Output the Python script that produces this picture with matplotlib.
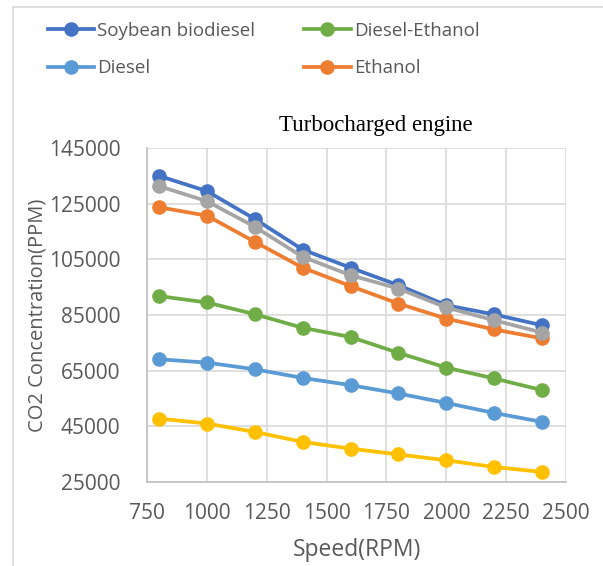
import matplotlib
matplotlib.use("Agg")
import matplotlib.pyplot as plt
from matplotlib.patches import Rectangle

speed = [800, 1000, 1200, 1400, 1600, 1800, 2000, 2200, 2400]
soybean_biodiesel = [135000, 129500, 119500, 108500, 102000, 95700, 88500, 85200, 81300]
diesel_ethanol = [91800, 89500, 85300, 80400, 77100, 71400, 66100, 62200, 58000]
diesel = [69100, 67900, 65500, 62400, 59800, 56800, 53400, 49800, 46600]
ethanol = [123700, 120700, 111300, 102000, 95400, 89100, 83700, 79800, 76600]
series_gray = [131300, 125900, 116700, 105900, 99300, 94500, 87700, 83100, 78700]
series_yellow = [47800, 46000, 43000, 39400, 37000, 34900, 32800, 30400, 28600]

x_ticks = [750, 1000, 1250, 1500, 1750, 2000, 2250, 2500]
y_ticks = [25000, 45000, 65000, 85000, 105000, 125000, 145000]

FONT = "Open Sans"
TXT = "#595959"

fig = plt.figure(figsize=(6.03, 5.66), dpi=100)
fig.patches.append(Rectangle((13/603, -0.01), 1.0, 1 - 7/566 + 0.01, transform=fig.transFigure,
                             fill=False, edgecolor="#d9d9d9", linewidth=1.2, zorder=0))
ax = fig.add_axes([147/603, 1 - 482/566, (566 - 147)/603, (482 - 148)/566])

lw = 2.7
ms = 9.5
h_soy, = ax.plot(speed, soybean_biodiesel, color="#4472C4", lw=lw, marker="o", ms=ms, label="Soybean biodiesel", zorder=3)
h_eth, = ax.plot(speed, ethanol, color="#ED7D31", lw=lw, marker="o", ms=ms, label="Ethanol", zorder=3)
ax.plot(speed, series_gray, color="#A5A5A5", lw=lw, marker="o", ms=ms, zorder=4)
ax.plot(speed, series_yellow, color="#FFC000", lw=lw, marker="o", ms=ms, zorder=3)
h_dsl, = ax.plot(speed, diesel, color="#5B9BD5", lw=lw, marker="o", ms=ms, label="Diesel", zorder=3)
h_de, = ax.plot(speed, diesel_ethanol, color="#70AD47", lw=lw, marker="o", ms=ms, label="Diesel-Ethanol", zorder=3)

ax.set_xlim(750, 2500)
ax.set_ylim(25000, 145000)
ax.set_xticks(x_ticks)
ax.set_yticks(y_ticks)
ax.grid(True, color="#d9d9d9", linewidth=1.2)
ax.set_axisbelow(True)
for s in ["top", "right"]:
    ax.spines[s].set_visible(False)
for s in ["left", "bottom"]:
    ax.spines[s].set_color("#bfbfbf")
    ax.spines[s].set_linewidth(1.2)
ax.tick_params(length=0, labelcolor=TXT)
for lab in ax.get_xticklabels() + ax.get_yticklabels():
    lab.set_fontfamily(FONT)
    lab.set_fontsize(15)
ax.tick_params(axis="x", pad=15)
ax.tick_params(axis="y", pad=19)

ax.set_xlabel("Speed(RPM)", fontfamily=FONT, fontsize=16.5, color=TXT)
ax.xaxis.label.set_va("baseline")
ax.xaxis.set_label_coords(0.5, (482 - 556) / 334)
ax.set_ylabel("CO2 Concentration(PPM)", fontfamily=FONT, fontsize=14.5, color=TXT)
ax.yaxis.set_label_coords((48 - 147) / 419, 0.5)

fig.text(376/603, 1 - 125/566, "Turbocharged engine", fontfamily="Liberation Serif", fontsize=16.5,
         color="black", ha="center", va="center")

leg = fig.legend([h_soy, h_dsl, h_de, h_eth], ["Soybean biodiesel", "Diesel", "Diesel-Ethanol", "Ethanol"],
                 ncol=2, loc="upper left", bbox_to_anchor=(40/603, 1 - 14/566), frameon=False,
                 prop={"family": FONT, "size": 13.5}, handlelength=2.5, handletextpad=0.15,
                 columnspacing=2.6, labelspacing=1.05, borderaxespad=0)
for t in leg.get_texts():
    t.set_color(TXT)

fig.savefig("out.png", dpi=100)
